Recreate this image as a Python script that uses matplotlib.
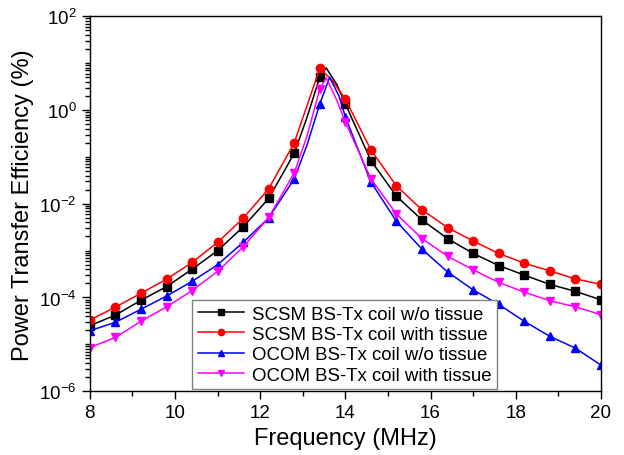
import numpy as np
import matplotlib
matplotlib.use("Agg")
from matplotlib import pyplot as plt
from matplotlib import ticker

plt.rcParams['font.family'] = ['Liberation Sans', 'DejaVu Sans']
plt.rcParams['mathtext.fontset'] = 'custom'
plt.rcParams['mathtext.rm'] = 'Liberation Sans'
plt.rcParams['mathtext.it'] = 'Liberation Sans:italic'
plt.rcParams['mathtext.default'] = 'regular'

# Marker frequencies (MHz), one marker every 0.6 MHz
freq = [8.0, 8.6, 9.2, 9.8, 10.4, 11.0, 11.6, 12.2, 12.8, 13.4, 14.0,
        14.6, 15.2, 15.8, 16.4, 17.0, 17.6, 18.2, 18.8, 19.4, 20.0]

# Power transfer efficiency (%)
scsm_wo = [2.5e-5, 4.2e-5, 8.7e-5, 1.7e-4, 4.0e-4, 1.0e-3, 3.2e-3, 1.3e-2, 0.12, 5.1, 1.35,
           0.083, 0.0145, 4.5e-3, 1.8e-3, 8.7e-4, 4.8e-4, 3.0e-4, 1.9e-4, 1.35e-4, 8.9e-5]
scsm_with = [3.3e-5, 6.2e-5, 1.23e-4, 2.45e-4, 5.6e-4, 1.5e-3, 4.9e-3, 0.021, 0.20, 7.8, 1.7,
             0.14, 0.024, 7.4e-3, 3.1e-3, 1.6e-3, 8.7e-4, 5.4e-4, 3.7e-4, 2.5e-4, 1.9e-4]
ocom_wo = [1.95e-5, 2.95e-5, 5.6e-5, 1.07e-4, 2.2e-4, 5.0e-4, 1.5e-3, 5.0e-3, 0.034, 1.35, 0.71,
           0.029, 4.2e-3, 1.07e-3, 3.5e-4, 1.45e-4, 7.1e-5, 3.1e-5, 1.48e-5, 8.3e-6, 3.6e-6]
ocom_with = [8.5e-6, 1.4e-5, 3.1e-5, 6.3e-5, 1.4e-4, 3.6e-4, 1.2e-3, 5.1e-3, 0.046, 2.8, 0.55,
             0.034, 6.0e-3, 1.8e-3, 7.6e-4, 3.9e-4, 2.1e-4, 1.3e-4, 8.5e-5, 6.3e-5, 4.3e-5]

# Extra points on the curves around the resonance peak (no marker drawn there)
scsm_wo_peak_f = [13.1, 13.55, 13.8]
scsm_wo_peak_v = [0.7, 7.9, 3.5]
scsm_with_peak_f = [13.1, 13.7]
scsm_with_peak_v = [1.25, 4.2]
ocom_wo_peak_f = [13.1, 13.63, 13.85]
ocom_wo_peak_v = [0.18, 5.0, 2.0]
ocom_with_peak_f = [13.1, 13.55, 13.8]
ocom_with_peak_v = [0.28, 4.9, 1.6]

labels = ['SCSM BS-Tx coil w/o tissue', 'SCSM BS-Tx coil with tissue',
          'OCOM BS-Tx coil w/o tissue', 'OCOM BS-Tx coil with tissue']


def curve(f, v, pf, pv):
    allf = np.concatenate([f, pf])
    allv = np.concatenate([v, pv])
    order = np.argsort(allf)
    return allf[order], allv[order]


series = [
    (scsm_wo, scsm_wo_peak_f, scsm_wo_peak_v, 'black', 's', 5.5),
    (scsm_with, scsm_with_peak_f, scsm_with_peak_v, '#FF0000', 'o', 6),
    (ocom_wo, ocom_wo_peak_f, ocom_wo_peak_v, '#0000FF', '^', 6),
    (ocom_with, ocom_with_peak_f, ocom_with_peak_v, '#FF00FF', 'v', 6),
]

fig = plt.figure(figsize=(6.24, 4.56), dpi=100)
ax = fig.add_axes([0.144, 0.140, 0.819, 0.822])

handles = []
for (vals, pf, pv, col, mk, ms), lab in zip(series, labels):
    cf, cv = curve(freq, vals, pf, pv)
    ax.plot(cf, cv, '-', color=col, lw=1.1)
    ax.plot(freq, vals, linestyle='none', marker=mk, color=col, ms=ms)
    h, = ax.plot([], [], '-', color=col, lw=1.1, marker=mk, ms=ms)
    handles.append(h)

ax.set_yscale('log')
ax.set_xlim(8, 20)
ax.set_ylim(1e-6, 1e2)

ax.xaxis.set_major_locator(ticker.MultipleLocator(2))
ax.xaxis.set_minor_locator(ticker.MultipleLocator(1))
ax.yaxis.set_major_locator(ticker.FixedLocator([1e-6, 1e-4, 1e-2, 1e0, 1e2]))
ax.yaxis.set_major_formatter(ticker.FixedFormatter(
    ['$10^{-6}$', '$10^{-4}$', '$10^{-2}$', '$10^{0}$', '$10^{2}$']))
ax.yaxis.set_minor_locator(ticker.LogLocator(base=10, subs=np.arange(1, 10), numticks=20))
ax.yaxis.set_minor_formatter(ticker.NullFormatter())

ax.tick_params(axis='both', which='major', direction='out', length=6, width=1,
               labelsize=13.5, top=False, right=False)
ax.tick_params(axis='both', which='minor', direction='out', length=3.5, width=1,
               top=False, right=False)
for s in ax.spines.values():
    s.set_linewidth(1)

ax.set_xlabel('Frequency (MHz)', fontsize=17, labelpad=4)
ax.set_ylabel('Power Transfer Efficiency (%)', fontsize=17, labelpad=4)

leg = ax.legend(handles, labels, loc='lower left', bbox_to_anchor=(0.2, 0.005),
                fontsize=13.4, frameon=True, fancybox=False, framealpha=1,
                edgecolor='#808080', borderpad=0.3, labelspacing=0.18,
                handlelength=2.5, handletextpad=0.4, borderaxespad=0,
                markerscale=0.75)
leg.get_frame().set_linewidth(1)

plt.savefig('out.png', dpi=100)
